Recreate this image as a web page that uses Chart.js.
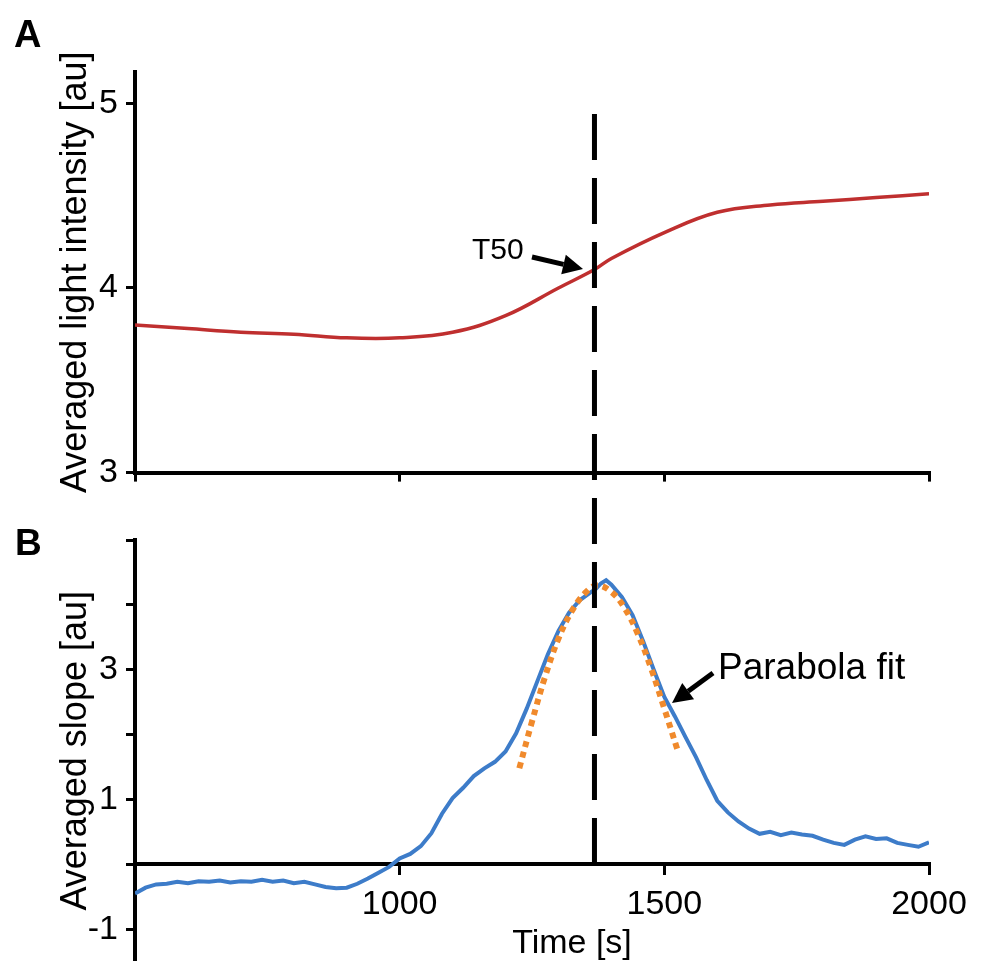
<!DOCTYPE html>
<html>
<head>
<meta charset="utf-8">
<script src="https://cdn.jsdelivr.net/npm/chart.js@4.4.1/dist/chart.umd.min.js"></script>
<style>
  body { margin: 0; background: #fff; overflow: hidden; }
  #wrap { position: relative; width: 990px; height: 961px; overflow: hidden; }
  canvas { position: absolute; left: 0; }
  #chartA { top: 0; }
  #chartB { top: 490px; }
</style>
</head>
<body>
<div id="wrap">
  <canvas id="chartA" width="990" height="501"></canvas>
  <canvas id="chartB" width="990" height="500"></canvas>
</div>
<script>
// 数据
const T50 = 1368;

// A: averaged light intensity
const intensityTimes = [500, 600, 700, 800, 900, 1000, 1100, 1200, 1300, 1368, 1400, 1500, 1600, 1700, 1800, 1900, 2000];
const intensityValues = [3.80, 3.78, 3.76, 3.75, 3.73, 3.73, 3.76, 3.85, 4.00, 4.10, 4.16, 4.30, 4.41, 4.45, 4.47, 4.49, 4.51];

// B: averaged slope
const slopeTimes = [500, 520, 540, 560, 580, 600, 620, 640, 660, 680, 700, 720, 740, 760, 780, 800, 820, 840, 860, 880,
  900, 920, 940, 960, 980, 1000, 1020, 1040, 1060, 1080, 1100, 1120, 1140, 1160, 1180, 1200, 1220, 1240, 1260, 1280,
  1300, 1320, 1340, 1360, 1370, 1380, 1390, 1400, 1420, 1440, 1460, 1480, 1500, 1520, 1540, 1560, 1580, 1600, 1620, 1640, 1660,
  1680, 1700, 1720, 1740, 1760, 1780, 1800, 1820, 1840, 1860, 1880, 1900, 1920, 1940, 1960, 1980, 2000];
const slopeValues = [-0.45, -0.36, -0.31, -0.30, -0.27, -0.29, -0.26, -0.27, -0.25, -0.28, -0.26, -0.27, -0.24, -0.27, -0.25, -0.29, -0.27, -0.31, -0.35, -0.37,
  -0.36, -0.30, -0.22, -0.13, -0.04, 0.09, 0.16, 0.28, 0.48, 0.78, 1.02, 1.18, 1.36, 1.48, 1.58, 1.74, 2.02, 2.40, 2.82, 3.24,
  3.60, 3.88, 4.07, 4.19, 4.24, 4.33, 4.38, 4.31, 4.12, 3.84, 3.44, 3.00, 2.58, 2.28, 1.96, 1.65, 1.30, 0.98, 0.80, 0.66, 0.55,
  0.47, 0.50, 0.45, 0.49, 0.46, 0.44, 0.38, 0.33, 0.30, 0.38, 0.43, 0.39, 0.40, 0.33, 0.30, 0.27, 0.34];

// parabola fit
const fitTimes = [1226, 1250, 1275, 1300, 1325, 1350, 1372, 1400, 1425, 1450, 1475, 1500, 1525];
const fitValues = [1.48, 2.20, 2.90, 3.48, 3.90, 4.18, 4.30, 4.20, 3.95, 3.55, 3.02, 2.40, 1.76];

const xTicks = [500, 1000, 1500, 2000];
const slopeTickLabels = [3, 1, -1];

Chart.defaults.font.family = "'Liberation Sans', Arial, sans-serif";
Chart.defaults.color = '#000';

const FONT = "'Liberation Sans', Arial, sans-serif";
const DASH_TOP = 114;

function toPoints(xs, ys) {
    return xs.map((x, i) => ({ x: x, y: ys[i] }));
}

function drawArrow(ctx, x1, y1, x2, y2) {
    const ang = Math.atan2(y2 - y1, x2 - x1);
    const head = 20, half = 10;
    const bx = x2 - head * Math.cos(ang), by = y2 - head * Math.sin(ang);
    ctx.save();
    ctx.strokeStyle = '#000';
    ctx.fillStyle = '#000';
    ctx.lineWidth = 5;
    ctx.beginPath();
    ctx.moveTo(x1, y1);
    ctx.lineTo(bx, by);
    ctx.stroke();
    ctx.beginPath();
    ctx.moveTo(x2, y2);
    ctx.lineTo(bx + half * Math.sin(ang), by - half * Math.cos(ang));
    ctx.lineTo(bx - half * Math.sin(ang), by + half * Math.cos(ang));
    ctx.closePath();
    ctx.fill();
    ctx.restore();
}

// 虚线 T50，两个画布共用同一页面坐标
function drawT50(chart, canvasTop, bottom) {
    const ctx = chart.ctx;
    const x = chart.scales.x.getPixelForValue(T50);
    ctx.save();
    ctx.strokeStyle = '#000';
    ctx.lineWidth = 5;
    ctx.setLineDash([46, 18]);
    ctx.beginPath();
    ctx.moveTo(x, DASH_TOP - canvasTop);
    ctx.lineTo(x, bottom);
    ctx.stroke();
    ctx.restore();
}

function drawText(ctx, text, x, y, font, align) {
    ctx.save();
    ctx.font = font;
    ctx.fillStyle = '#000';
    ctx.textAlign = align || 'left';
    ctx.textBaseline = 'alphabetic';
    ctx.fillText(text, x, y);
    ctx.restore();
}

const panelA = {
    id: 'panelA',
    afterDatasetsDraw(chart) {
        drawT50(chart, 0, 490);
        const ctx = chart.ctx;
        drawText(ctx, 'A', 14, 47, 'bold 38px ' + FONT);
        drawText(ctx, 'T50', 472, 259, '30px ' + FONT);
        drawArrow(ctx, 532, 257, 583, 269);
    }
};

const panelB = {
    id: 'panelB',
    afterDatasetsDraw(chart) {
        drawT50(chart, 490, chart.scales.y.getPixelForValue(0));
        const ctx = chart.ctx;
        drawText(ctx, 'B', 15, 65, 'bold 37px ' + FONT);
        drawText(ctx, 'Parabola fit', 718, 189, '37px ' + FONT);
        drawArrow(ctx, 713, 183, 672, 213);
        drawText(ctx, 'Time [s]', 572, 463, '34px ' + FONT, 'center');
    }
};

const axisBorder = { color: '#000', width: 4 };
const tickGrid = { drawOnChartArea: false, drawTicks: true, tickLength: 9, tickColor: '#000', lineWidth: 3 };

new Chart(document.getElementById('chartA'), {
    type: 'line',
    data: {
        datasets: [{
            data: toPoints(intensityTimes, intensityValues),
            borderColor: '#bf2f2f',
            borderWidth: 3.5,
            pointRadius: 0,
            tension: 0.4,
            fill: false
        }]
    },
    options: {
        responsive: false,
        animation: false,
        layout: { padding: { top: 72, right: 61, left: 0, bottom: 0 } },
        plugins: { legend: { display: false }, tooltip: { enabled: false } },
        scales: {
            x: {
                type: 'linear',
                min: 500,
                max: 2000,
                afterBuildTicks: s => { s.ticks = xTicks.map(v => ({ value: v })); },
                ticks: { display: false },
                grid: tickGrid,
                border: axisBorder,
                afterFit: s => { s.height = 17; }
            },
            y: {
                min: 3,
                max: 5.17,
                ticks: { stepSize: 1, includeBounds: false, padding: 8, font: { size: 34 } },
                grid: tickGrid,
                border: axisBorder,
                title: { display: true, text: 'Averaged light intensity [au]', font: { size: 36 }, padding: { top: 54, bottom: 0 } },
                afterFit: s => { s.width = 135; }
            }
        }
    },
    plugins: [panelA]
});

new Chart(document.getElementById('chartB'), {
    type: 'line',
    data: {
        datasets: [{
            data: toPoints(fitTimes, fitValues),
            borderColor: '#f08a2c',
            borderWidth: 6,
            borderDash: [6, 5],
            pointRadius: 0,
            tension: 0.4,
            fill: false
        }, {
            data: toPoints(slopeTimes, slopeValues),
            borderColor: '#3d7cc9',
            borderWidth: 4,
            pointRadius: 0,
            tension: 0,
            fill: false
        }]
    },
    options: {
        responsive: false,
        animation: false,
        layout: { padding: { top: 50, right: 61, left: 0, bottom: 0 } },
        plugins: { legend: { display: false }, tooltip: { enabled: false } },
        scales: {
            x: {
                type: 'linear',
                position: { y: 0 },
                min: 500,
                max: 2000,
                afterBuildTicks: s => { s.ticks = xTicks.map(v => ({ value: v })); },
                ticks: {
                    padding: 11,
                    font: { size: 34 },
                    callback: v => (v === 500 ? '' : String(v))
                },
                grid: tickGrid,
                border: axisBorder
            },
            y: {
                min: -1.5,
                max: 5,
                ticks: {
                    stepSize: 1,
                    includeBounds: false,
                    padding: 8,
                    font: { size: 34 },
                    callback: v => (slopeTickLabels.includes(v) ? String(v) : '')
                },
                grid: tickGrid,
                border: axisBorder,
                title: { display: true, text: 'Averaged slope [au]', font: { size: 36 }, padding: { top: 54, bottom: 0 } },
                afterFit: s => { s.width = 135; }
            }
        }
    },
    plugins: [panelB]
});
</script>
</body>
</html>
